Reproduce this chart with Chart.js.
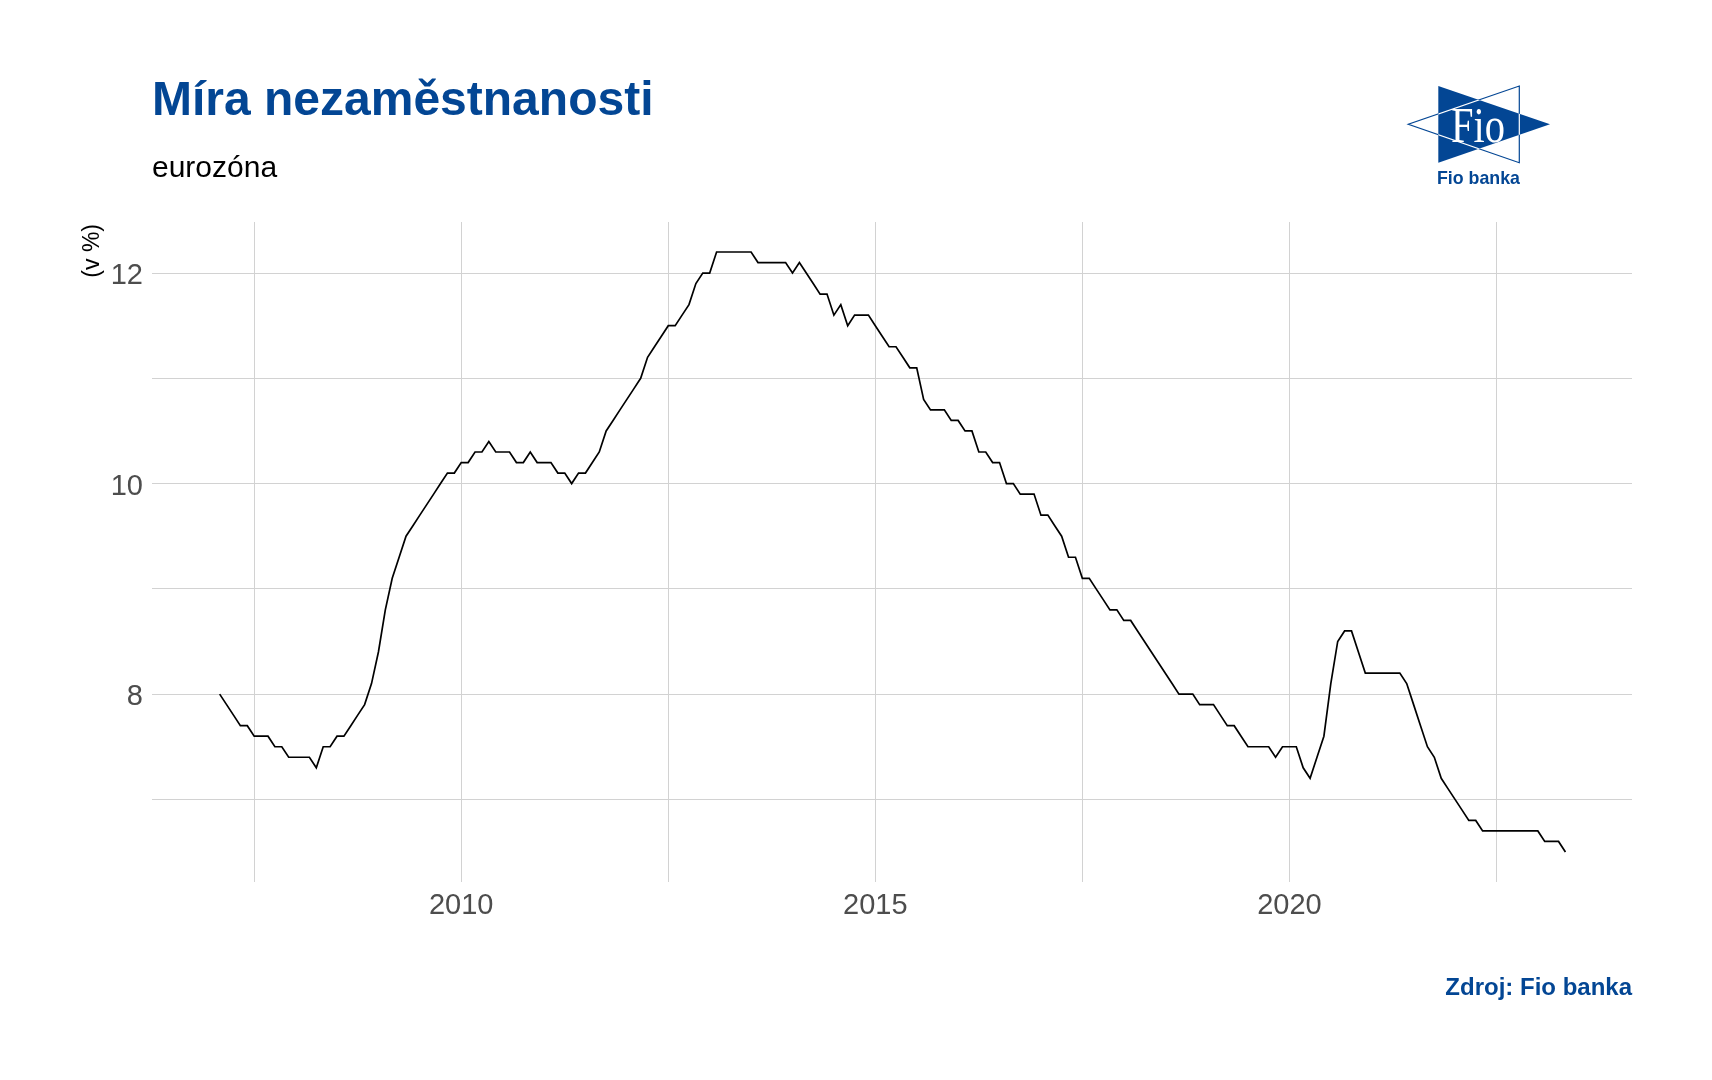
<!DOCTYPE html>
<html>
<head>
<meta charset="utf-8">
<title>Míra nezaměstnanosti</title>
<script src="https://cdn.jsdelivr.net/npm/chart.js@4.4.0/dist/chart.umd.min.js"></script>
<style>
  html, body { margin: 0; padding: 0; background: #fff; }
  #wrap { position: relative; width: 1712px; height: 1080px; }
  #logo { position: absolute; left: 1400px; top: 80px; }
</style>
</head>
<body>
<div id="wrap">
  <canvas id="chart" width="1712" height="1080"></canvas>
  <svg id="logo" width="160" height="110" viewBox="0 0 160 110">
    <defs>
      <clipPath id="darkClip"><polygon points="38.3,6 38.3,82.7 150,44.3" /></clipPath>
    </defs>
    <polygon points="119.3,6 119.3,82.7 8.3,44.3" fill="none" stroke="#034694" stroke-width="1.2" />
    <polygon points="38.3,6 38.3,82.7 150,44.3" fill="#034694" />
    <polygon points="119.3,6 119.3,82.7 8.3,44.3" fill="none" stroke="#fff" stroke-width="1.2" clip-path="url(#darkClip)" />
    <text x="51" y="62" fill="#fff" font-family="'Liberation Serif', 'DejaVu Serif', serif" font-size="50" textLength="54" lengthAdjust="spacingAndGlyphs">Fio</text>
    <text x="37" y="103.5" fill="#034694" font-family="'Liberation Sans', Arial, sans-serif" font-weight="bold" font-size="19" textLength="83" lengthAdjust="spacingAndGlyphs">Fio banka</text>
  </svg>
</div>
<script>
// eurozone unemployment rate, monthly from Jan 2007 to Apr 2023
const firstYear = 2007;
const unemployment = [
  8.0, 7.9, 7.8, 7.7, 7.7, 7.6, 7.6, 7.6, 7.5, 7.5, 7.4, 7.4,
  7.4, 7.4, 7.3, 7.5, 7.5, 7.6, 7.6, 7.7, 7.8, 7.9, 8.1, 8.4,
  8.8, 9.1, 9.3, 9.5, 9.6, 9.7, 9.8, 9.9, 10.0, 10.1, 10.1, 10.2,
  10.2, 10.3, 10.3, 10.4, 10.3, 10.3, 10.3, 10.2, 10.2, 10.3, 10.2, 10.2,
  10.2, 10.1, 10.1, 10.0, 10.1, 10.1, 10.2, 10.3, 10.5, 10.6, 10.7, 10.8,
  10.9, 11.0, 11.2, 11.3, 11.4, 11.5, 11.5, 11.6, 11.7, 11.9, 12.0, 12.0,
  12.2, 12.2, 12.2, 12.2, 12.2, 12.2, 12.1, 12.1, 12.1, 12.1, 12.1, 12.0,
  12.1, 12.0, 11.9, 11.8, 11.8, 11.6, 11.7, 11.5, 11.6, 11.6, 11.6, 11.5,
  11.4, 11.3, 11.3, 11.2, 11.1, 11.1, 10.8, 10.7, 10.7, 10.7, 10.6, 10.6,
  10.5, 10.5, 10.3, 10.3, 10.2, 10.2, 10.0, 10.0, 9.9, 9.9, 9.9, 9.7,
  9.7, 9.6, 9.5, 9.3, 9.3, 9.1, 9.1, 9.0, 8.9, 8.8, 8.8, 8.7,
  8.7, 8.6, 8.5, 8.4, 8.3, 8.2, 8.1, 8.0, 8.0, 8.0, 7.9, 7.9,
  7.9, 7.8, 7.7, 7.7, 7.6, 7.5, 7.5, 7.5, 7.5, 7.4, 7.5, 7.5,
  7.5, 7.3, 7.2, 7.4, 7.6, 8.1, 8.5, 8.6, 8.6, 8.4, 8.2, 8.2,
  8.2, 8.2, 8.2, 8.2, 8.1, 7.9, 7.7, 7.5, 7.4, 7.2, 7.1, 7.0,
  6.9, 6.8, 6.8, 6.7, 6.7, 6.7, 6.7, 6.7, 6.7, 6.7, 6.7, 6.7,
  6.6, 6.6, 6.6, 6.5
];
const xLabelTicks = [2010, 2015, 2020];
const xGridTicks = [2007.5, 2010, 2012.5, 2015, 2017.5, 2020, 2022.5];
const yLabelTicks = [8, 10, 12];
const yGridTicks = [7, 8, 9, 10, 11, 12];

const titleText = 'Míra nezaměstnanosti';
const subtitleText = 'eurozóna';
const yTitleText = '(v %)';
const captionText = 'Zdroj: Fio banka';

const fioBlue = '#034694';
const gridColor = '#d2d2d2';
const tickColor = '#4d4d4d';
const fontFamily = '"Liberation Sans", Arial, sans-serif';

// month-end position of each observation on a year axis
const points = unemployment.map((v, i) => ({ x: firstYear + (i + 1) / 12, y: v }));

const textPlugin = {
  id: 'texts',
  afterDraw(chart) {
    const c = chart.ctx;
    const area = chart.chartArea;
    c.save();
    c.textAlign = 'left';
    c.textBaseline = 'alphabetic';
    c.fillStyle = fioBlue;
    c.font = `bold 48px ${fontFamily}`;
    c.fillText(titleText, area.left, 115);
    c.fillStyle = '#000';
    c.font = `30px ${fontFamily}`;
    c.fillText(subtitleText, area.left, 177);

    c.save();
    c.translate(93, area.top + 2);
    c.rotate(-Math.PI / 2);
    c.textAlign = 'right';
    c.textBaseline = 'middle';
    c.font = `23px ${fontFamily}`;
    c.fillText(yTitleText, 0, 0);
    c.restore();

    c.textAlign = 'right';
    c.fillStyle = fioBlue;
    c.font = `bold 24px ${fontFamily}`;
    c.fillText(captionText, area.right, 995);
    c.restore();
  }
};

const ctx = document.getElementById('chart');
const chart = new Chart(ctx, {
  type: 'line',
  data: {
    datasets: [{
      data: points,
      borderColor: '#000',
      borderWidth: 1.7,
      pointRadius: 0,
      tension: 0,
      fill: false
    }]
  },
  options: {
    responsive: false,
    animation: false,
    devicePixelRatio: 1,
    layout: { padding: { left: 0, top: 222, right: 80, bottom: 138 } },
    plugins: {
      legend: { display: false },
      tooltip: { enabled: false }
    },
    scales: {
      x: {
        type: 'linear',
        min: 2006.266,
        max: 2024.137,
        afterBuildTicks: (scale) => { scale.ticks = xGridTicks.map((v) => ({ value: v })); },
        afterFit: (scale) => { scale.height = 60; },
        grid: { color: gridColor, lineWidth: 1, drawTicks: false },
        border: { display: false },
        ticks: {
          autoSkip: false,
          maxRotation: 0,
          padding: 7,
          color: tickColor,
          font: { family: fontFamily, size: 29 },
          callback: (v) => (xLabelTicks.includes(v) ? String(v) : '')
        }
      },
      y: {
        min: 6.215,
        max: 12.485,
        afterBuildTicks: (scale) => { scale.ticks = yGridTicks.map((v) => ({ value: v })); },
        afterFit: (scale) => { scale.width = 152; },
        grid: { color: gridColor, lineWidth: 1, drawTicks: false },
        border: { display: false },
        ticks: {
          autoSkip: false,
          padding: 9,
          labelOffset: 3,
          color: tickColor,
          font: { family: fontFamily, size: 29 },
          callback: (v) => (yLabelTicks.includes(v) ? String(v) : '')
        }
      }
    }
  },
  plugins: [textPlugin]
}); /* eslint-disable-line no-unused-vars */
</script>
</body>
</html>
